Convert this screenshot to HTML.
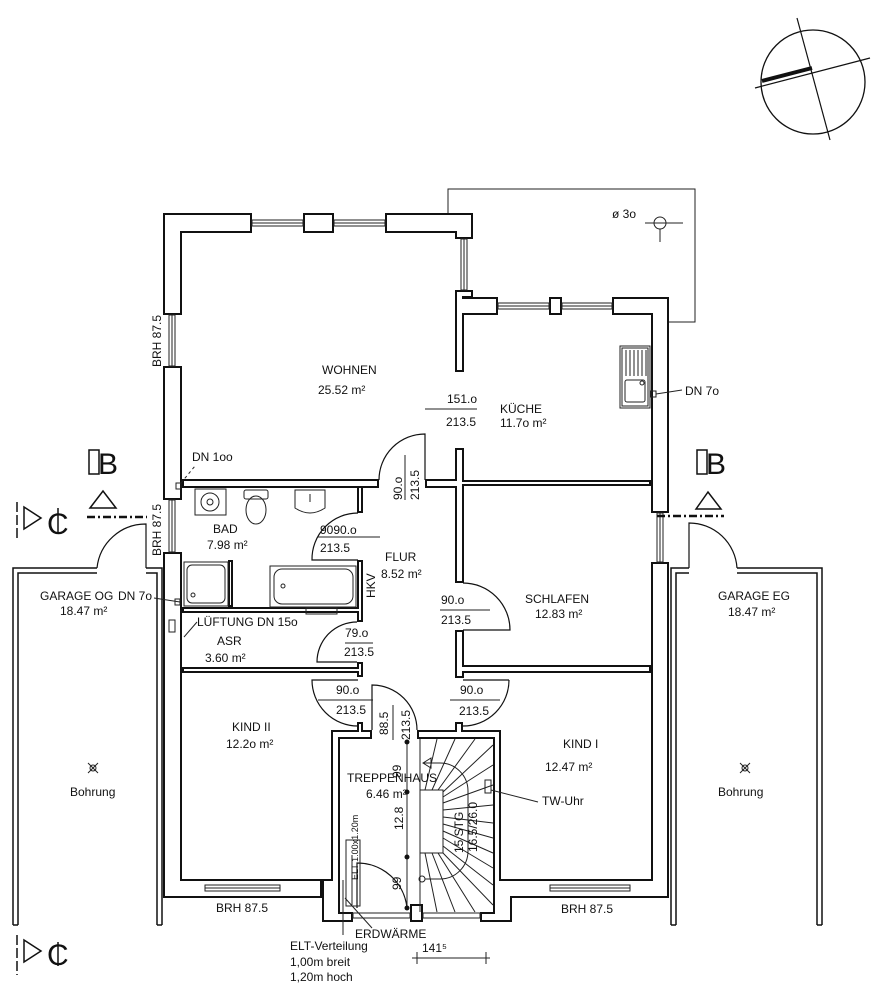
<!DOCTYPE html>
<html><head><meta charset="utf-8"><style>
html,body{margin:0;padding:0;background:#fff}
svg{display:block}
text{font-family:"Liberation Sans",sans-serif;font-size:12px;fill:#111}
text.big{font-size:30px}
</style></head><body>
<svg width="893" height="1000" viewBox="0 0 893 1000" xmlns="http://www.w3.org/2000/svg">
<rect width="893" height="1000" fill="#fff"/>
<polyline points="448,213 448,189 695,189 695,322 669,322" fill="none" stroke="#222" stroke-width="1"/>
<g fill="#111">
<rect x="163" y="213" width="89" height="20"/><rect x="303" y="213" width="31" height="20"/><rect x="385" y="213" width="88" height="20"/><rect x="455" y="213" width="18" height="26"/>
<rect x="455" y="290" width="18" height="8"/><rect x="455" y="297" width="43" height="18"/><rect x="549" y="297" width="13" height="18"/><rect x="612" y="297" width="57" height="18"/>
<rect x="455" y="290" width="9" height="82"/>
<rect x="651" y="297" width="18" height="216"/><rect x="651" y="562" width="18" height="336"/>
<rect x="163" y="213" width="19" height="102"/><rect x="163" y="366" width="19" height="134"/><rect x="163" y="552" width="19" height="346"/>
<rect x="163" y="879" width="159" height="19"/><rect x="322" y="879" width="18" height="43"/><rect x="322" y="912" width="31" height="10"/><rect x="410" y="904" width="13" height="18"/><rect x="480" y="912" width="32" height="10"/><rect x="493" y="879" width="19" height="43"/><rect x="493" y="879" width="176" height="19"/>
<rect x="331" y="730" width="9" height="192"/><rect x="493" y="730" width="8" height="170"/>
<rect x="331" y="730" width="41" height="9"/><rect x="357" y="722" width="6" height="12"/><rect x="417" y="730" width="84" height="9"/><rect x="455" y="722" width="8" height="12"/>
<rect x="182" y="479" width="197" height="9"/><rect x="425" y="479" width="39" height="9"/><rect x="455" y="448" width="9" height="135"/><rect x="455" y="480" width="196" height="6"/>
<rect x="357" y="486" width="6" height="27"/><rect x="357" y="560" width="6" height="62"/><rect x="357" y="662" width="6" height="15"/>
<rect x="182" y="607" width="181" height="6"/><rect x="182" y="667" width="181" height="6"/><rect x="228" y="560" width="5" height="47"/>
<rect x="455" y="630" width="9" height="48"/><rect x="455" y="665" width="196" height="8"/>
</g>
<g fill="#fff">
<rect x="165" y="215" width="85" height="16"/><rect x="305" y="215" width="27" height="16"/><rect x="387" y="215" width="84" height="16"/><rect x="457" y="215" width="14" height="22"/>
<rect x="457" y="292" width="14" height="4"/><rect x="457" y="299" width="39" height="14"/><rect x="551" y="299" width="9" height="14"/><rect x="614" y="299" width="53" height="14"/>
<rect x="457" y="292" width="5" height="78"/>
<rect x="653" y="299" width="14" height="212"/><rect x="653" y="564" width="14" height="332"/>
<rect x="165" y="215" width="15" height="98"/><rect x="165" y="368" width="15" height="130"/><rect x="165" y="554" width="15" height="342"/>
<rect x="165" y="881" width="155" height="15"/><rect x="324" y="881" width="14" height="39"/><rect x="324" y="914" width="27" height="6"/><rect x="412" y="906" width="9" height="14"/><rect x="482" y="914" width="28" height="6"/><rect x="495" y="881" width="15" height="39"/><rect x="495" y="881" width="172" height="15"/>
<rect x="333" y="732" width="5" height="188"/><rect x="495" y="732" width="4" height="166"/>
<rect x="333" y="732" width="37" height="5"/><rect x="359" y="724" width="2" height="8"/><rect x="419" y="732" width="80" height="5"/><rect x="457" y="724" width="4" height="8"/>
<rect x="184" y="481" width="193" height="5"/><rect x="427" y="481" width="35" height="5"/><rect x="457" y="450" width="5" height="131"/><rect x="457" y="482" width="192" height="2"/>
<rect x="359" y="488" width="2" height="23"/><rect x="359" y="562" width="2" height="58"/><rect x="359" y="664" width="2" height="11"/>
<rect x="184" y="609" width="177" height="2"/><rect x="184" y="669" width="177" height="2"/><rect x="230" y="562" width="1" height="43"/>
<rect x="457" y="632" width="5" height="44"/><rect x="457" y="667" width="192" height="4"/>
</g>
<g fill="none" stroke="#222" stroke-width="1">
<rect x="252" y="220" width="51" height="6"/><rect x="334" y="220" width="51" height="6"/>
<rect x="461" y="239" width="6" height="51"/>
<rect x="498" y="303" width="51" height="6"/><rect x="562" y="303" width="50" height="6"/>
<rect x="657" y="513" width="6" height="49"/>
<rect x="169" y="315" width="6" height="51"/><rect x="169" y="500" width="6" height="52"/>
<rect x="205" y="885" width="75" height="6"/><rect x="550" y="885" width="80" height="6"/>
<rect x="353" y="913" width="57" height="5"/><rect x="423" y="913" width="57" height="5"/>
<rect x="169" y="620" width="6" height="12"/>
<path d="M252,223H303M334,223H385M464,239V290M498,306H549M562,306H612M660,513V562M172,315V366M172,500V552M205,888H280M550,888H630"/>
</g>
<g fill="none" stroke="#111" stroke-width="1.5">
<polyline points="13,925 13,568 97,568"/><polyline points="146,568 162,568 162,925"/>
<polyline points="18,925 18,573 97,573"/><polyline points="146,573 157,573 157,925"/>
<line x1="13" y1="925" x2="18" y2="925"/><line x1="157" y1="925" x2="162" y2="925"/>
<polyline points="671,925 671,568 689,568"/><polyline points="737,568 822,568 822,925"/>
<polyline points="676,925 676,573 689,573"/><polyline points="737,573 817,573 817,925"/>
<line x1="671" y1="925" x2="676" y2="925"/><line x1="817" y1="925" x2="822" y2="925"/>
</g>
<g fill="none" stroke="#111" stroke-width="1.2">
<path d="M146,568 L146,524 A49 49 0 0 0 97,568"/>
<path d="M689,568 L689,523 A48 48 0 0 1 737,568"/>
<path d="M425,480 L425,434 A46 46 0 0 0 379,480"/>
<path d="M358,513 A46 46 0 0 0 312,560 L358,560"/>
<path d="M463,583 A47 47 0 0 1 510,630 L463,630"/>
<path d="M357,622 A40 40 0 0 0 317,662 L357,662"/>
<path d="M358,726 A46 46 0 0 1 312,680 L358,680"/>
<path d="M509,680 A46 46 0 0 1 463,726"/><line x1="463" y1="680" x2="509" y2="680"/>
<path d="M372,730 L372,685 A45 45 0 0 1 417,730"/>
<path d="M357,908 L357,863 A50 50 0 0 1 407,908"/>
</g>
<g fill="none" stroke="#222" stroke-width="1">
<rect x="420" y="790" width="23" height="63"/>
<path d="M420,790L420,739M425,790L437,739M432,790L455,739M438,790L475,739M443,792L493,745M443,797L493,765M443,803L493,785M443,810L493,805M443,817L493,823M443,824L493,838M443,831L493,853M443,838L493,868M443,846L493,885M443,853L493,905M438,853L475,912M432,853L455,912M425,853L437,912M420,853L420,912"/>
<path d="M423,763 L440,763 A28 28 0 0 1 468,791 L468,851 A28 28 0 0 1 440,879 L425,879"/>
<path d="M423,763 L431,758 L431,768 Z"/>
<circle cx="422" cy="879" r="3"/>
<line x1="407" y1="742" x2="407" y2="910"/>
<rect x="485" y="780" width="6" height="13"/>
<line x1="491" y1="790" x2="538" y2="802"/>
<rect x="346" y="840" width="14" height="66"/>
<line x1="352" y1="855" x2="352" y2="905"/>
</g>
<g fill="#111"><circle cx="407" cy="742" r="2.5"/><circle cx="407" cy="792" r="2.5"/><circle cx="407" cy="857" r="2.5"/><circle cx="407" cy="908" r="2.5"/></g>
<g fill="none" stroke="#222" stroke-width="1">
<rect x="195" y="489" width="31" height="26"/><circle cx="210" cy="502" r="9"/><circle cx="210" cy="502" r="3"/>
<rect x="244" y="490" width="24" height="9" rx="2"/><ellipse cx="256" cy="510" rx="10" ry="14"/>
<path d="M295,490 L325,490 L325,508 Q310,518 295,508 Z"/><line x1="310" y1="494" x2="310" y2="502"/>
<rect x="184" y="562" width="44" height="44"/><rect x="187" y="565" width="38" height="38" rx="5"/><circle cx="193" cy="595" r="2"/>
<rect x="270" y="566" width="86" height="41"/><rect x="274" y="569" width="79" height="35" rx="8"/><circle cx="283" cy="586" r="2"/>
<rect x="306" y="608" width="31" height="6"/>
<rect x="620" y="346" width="30" height="62"/><rect x="622" y="348" width="26" height="58"/><rect x="625" y="380" width="20" height="22" rx="2"/><circle cx="642" cy="383" r="2"/>
<path d="M626,350V376M630,350V376M634,350V376M638,350V376M642,350V376M646,350V376"/>
<rect x="651" y="391" width="5" height="6"/><line x1="656" y1="394" x2="682" y2="390"/>
<rect x="176" y="483" width="5" height="6"/><path d="M181,483 L195,466" stroke-dasharray="3,3"/>
<rect x="175" y="599" width="5" height="6"/><line x1="180" y1="602" x2="154" y2="598"/>
<line x1="184" y1="637" x2="197" y2="622"/>
<line x1="345" y1="898" x2="372" y2="928"/>
<line x1="343" y1="880" x2="343" y2="935"/>
<line x1="412" y1="958" x2="490" y2="958"/><path d="M417,952V964M486,952V964"/>
<circle cx="660" cy="223" r="6"/><path d="M645,223H683M660,229V242"/>
<line x1="425" y1="409" x2="477" y2="409"/><line x1="405" y1="455" x2="405" y2="500"/>
<line x1="318" y1="537" x2="380" y2="537"/><line x1="440" y1="610" x2="490" y2="610"/>
<line x1="345" y1="643" x2="373" y2="643"/><line x1="318" y1="700" x2="373" y2="700"/>
<line x1="450" y1="700" x2="500" y2="700"/><line x1="393" y1="705" x2="393" y2="740"/>
</g>
<g stroke="#222" stroke-width="1" fill="none">
<path d="M88,763 L98,773 M98,763 L88,773"/><circle cx="93" cy="768" r="3"/>
<path d="M740,763 L750,773 M750,763 L740,773"/><circle cx="745" cy="768" r="3"/>
</g>
<g stroke="#111" fill="none">
<circle cx="813" cy="82" r="52" stroke-width="1.3"/>
<line x1="797" y1="18" x2="830" y2="140" stroke-width="1.2"/>
<line x1="755" y1="88" x2="870" y2="58" stroke-width="1.2"/>
<line x1="762" y1="81" x2="812" y2="68" stroke-width="4"/>
</g>
<g stroke="#111" fill="none" stroke-width="1.5">
<rect x="89" y="450" width="10" height="24"/><rect x="697" y="450" width="10" height="24"/>
<path d="M90,508 L103,491 L116,508 Z"/><path d="M696,509 L708,492 L721,509 Z"/>
<line x1="87" y1="517" x2="147" y2="517" stroke-dasharray="8,3,2,3" stroke-width="2.5"/>
<line x1="657" y1="516" x2="724" y2="516" stroke-dasharray="8,3,2,3" stroke-width="2.5"/>
<line x1="17" y1="502" x2="17" y2="540" stroke-dasharray="10,3"/>
<path d="M24,507 L41,518 L24,529 Z"/>
<line x1="17" y1="935" x2="17" y2="975" stroke-dasharray="10,3"/>
<path d="M24,940 L41,951 L24,962 Z"/>
<line x1="58" y1="508" x2="58" y2="534"/><line x1="58" y1="942" x2="58" y2="966"/>
</g>
<text class="big" x="98" y="474">B</text><text class="big" x="706" y="474">B</text>
<text class="big" x="47" y="534">C</text><text class="big" x="47" y="965">C</text>
<g>
<text x="322" y="374">WOHNEN</text><text x="318" y="394">25.52 m²</text>
<text x="447" y="403">151.o</text><text x="446" y="426">213.5</text>
<text x="500" y="413">KÜCHE</text><text x="500" y="427">11.7o m²</text>
<text x="685" y="395">DN 7o</text><text x="612" y="218">ø 3o</text>
<text x="192" y="461">DN 1oo</text>
<text x="213" y="533">BAD</text><text x="207" y="549">7.98 m²</text>
<text x="320" y="534">9090.o</text><text x="320" y="552">213.5</text>
<text x="385" y="561">FLUR</text><text x="381" y="578">8.52 m²</text>
<text x="441" y="604">90.o</text><text x="441" y="624">213.5</text>
<text x="525" y="603">SCHLAFEN</text><text x="535" y="618">12.83 m²</text>
<text x="40" y="600">GARAGE OG</text><text x="118" y="600">DN 7o</text><text x="60" y="615">18.47 m²</text>
<text x="718" y="600">GARAGE EG</text><text x="728" y="616">18.47 m²</text>
<text x="197" y="626">LÜFTUNG DN 15o</text>
<text x="217" y="645">ASR</text><text x="205" y="662">3.60 m²</text>
<text x="345" y="637">79.o</text><text x="344" y="656">213.5</text>
<text x="336" y="694">90.o</text><text x="336" y="714">213.5</text>
<text x="460" y="694">90.o</text><text x="459" y="715">213.5</text>
<text x="232" y="731">KIND II</text><text x="226" y="748">12.2o m²</text>
<text x="563" y="748">KIND I</text><text x="545" y="771">12.47 m²</text>
<text x="347" y="782">TREPPENHAUS</text><text x="366" y="798">6.46 m²</text>
<text x="542" y="805">TW-Uhr</text>
<text x="70" y="796">Bohrung</text><text x="718" y="796">Bohrung</text>
<text x="216" y="912">BRH 87.5</text><text x="561" y="913">BRH 87.5</text>
<text x="355" y="938">ERDWÄRME</text>
<text x="290" y="950">ELT-Verteilung</text><text x="290" y="966">1,00m breit</text><text x="290" y="981">1,20m hoch</text>
<text x="422" y="952">141⁵</text>
<text transform="translate(161,367) rotate(-90)">BRH 87.5</text>
<text transform="translate(161,556) rotate(-90)">BRH 87.5</text>
<text transform="translate(402,500) rotate(-90)">90.o</text>
<text transform="translate(419,500) rotate(-90)">213.5</text>
<text transform="translate(375,598) rotate(-90)">HKV</text>
<text transform="translate(388,735) rotate(-90)">88.5</text>
<text transform="translate(410,740) rotate(-90)">213.5</text>
<text transform="translate(401,778) rotate(-90)">99</text>
<text transform="translate(403,830) rotate(-90)">12.8</text>
<text transform="translate(401,890) rotate(-90)">99</text>
<text transform="translate(463,853) rotate(-90)">15 STG</text>
<text transform="translate(477,852) rotate(-90)">16.5/26.0</text>
<text transform="translate(358,880) rotate(-90)" style="font-size:9px">ELT 1.00x1.20m</text>
</g>
</svg>
</body></html>
